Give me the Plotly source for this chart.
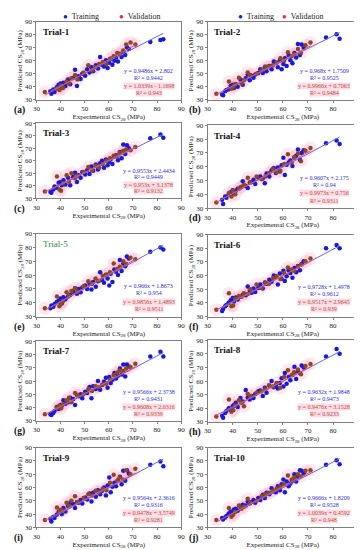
import plotly.graph_objects as go
from plotly.subplots import make_subplots

# ---------------- data ----------------
TRIALS = ["Trial-1", "Trial-2", "Trial-3", "Trial-4", "Trial-5",
          "Trial-6", "Trial-7", "Trial-8", "Trial-9", "Trial-10"]
PANEL_LABELS = ["(a)", "(b)", "(c)", "(d)", "(e)", "(f)", "(g)", "(h)", "(i)", "(j)"]

X_TRAIN = [35.8, 36.2, 37.0, 37.5, 38.4, 39.2, 40.0, 40.5, 41.2, 42.0, 43.1, 44.0, 45.2, 46.0, 46.8,
           47.5, 48.3, 49.0, 50.2, 51.0, 52.0, 52.8, 53.5, 54.6, 55.5, 56.4, 57.2, 58.0, 58.8, 59.5,
           60.2, 60.8, 61.5, 62.3, 63.0, 63.8, 64.6, 65.3, 66.0, 66.8, 67.5, 68.3, 77.2, 81.4, 82.6]
X_VAL = [33.5, 38.5, 39.5, 40.2, 41.0, 42.5, 43.5, 44.5, 46.0, 47.0, 49.5, 51.5, 53.0, 54.5, 56.0,
         57.5, 59.0, 60.5, 62.0, 63.5, 64.5, 66.0, 67.2, 69.0, 71.0]

Y_TRAIN = [
    [36.5, 34.5, 37.8, 36.0, 39.5, 41.5, 42.5, 39.0, 43.0, 40.5, 45.5, 42.0, 47.0, 53.0, 40.5,
     48.0, 46.0, 50.0, 48.5, 53.5, 51.0, 55.0, 52.0, 56.5, 54.0, 63.0, 57.0, 55.5, 60.5, 54.5,
     58.5, 61.5, 57.0, 60.0, 62.5, 59.5, 65.5, 63.0, 67.0, 64.5, 70.5, 69.0, 74.5, 76.0, 76.5],
    [34.0, 33.5, 36.5, 37.5, 38.0, 40.5, 41.5, 39.0, 42.0, 40.0, 45.5, 41.5, 46.5, 49.5, 45.0,
     48.5, 47.0, 49.5, 50.5, 53.5, 50.5, 55.0, 52.0, 56.0, 53.5, 59.5, 58.5, 55.0, 60.5, 53.5,
     57.5, 62.0, 56.0, 64.5, 60.5, 58.0, 66.0, 62.5, 73.0, 64.5, 72.5, 70.0, 78.0, 80.5, 77.0],
    [35.0, 34.5, 37.0, 39.5, 38.5, 42.5, 43.0, 40.5, 44.5, 41.0, 46.5, 40.5, 47.0, 50.5, 43.0,
     48.5, 46.5, 51.0, 49.0, 52.5, 49.5, 55.5, 52.0, 57.0, 53.0, 58.0, 60.0, 54.5, 61.0, 56.5,
     59.0, 61.5, 57.5, 63.5, 64.5, 60.5, 67.0, 62.0, 73.0, 65.5, 72.5, 70.0, 78.0, 81.0, 78.5],
    [36.0, 33.0, 38.5, 37.5, 40.0, 41.5, 43.0, 40.5, 42.5, 44.0, 45.0, 49.5, 46.0, 44.5, 48.5,
     49.0, 50.5, 47.5, 52.0, 53.0, 51.5, 48.0, 55.0, 53.0, 57.5, 59.0, 55.5, 59.5, 56.5, 61.0,
     66.5, 54.0, 61.5, 63.0, 64.5, 60.5, 66.5, 68.0, 72.5, 65.0, 70.0, 72.0, 77.0, 79.0, 76.5],
    [36.0, 38.0, 37.0, 39.0, 40.5, 41.5, 43.0, 39.5, 44.0, 42.5, 44.5, 45.5, 48.0, 50.5, 46.5,
     50.0, 47.5, 51.0, 52.5, 50.0, 53.5, 49.5, 55.0, 51.5, 55.5, 62.0, 56.5, 54.5, 60.0, 57.5,
     52.5, 61.0, 55.0, 64.0, 62.5, 60.0, 71.0, 63.0, 68.5, 66.5, 73.5, 72.0, 77.0, 80.0, 78.5],
    [34.0, 35.5, 37.5, 38.5, 40.0, 42.0, 43.5, 41.0, 44.0, 42.5, 44.5, 46.0, 45.5, 52.0, 49.0,
     47.5, 50.5, 48.0, 51.0, 53.5, 50.5, 55.0, 54.0, 57.0, 55.5, 60.0, 59.0, 53.5, 61.5, 57.5,
     63.5, 56.0, 59.5, 64.0, 62.0, 58.5, 65.5, 62.5, 67.0, 64.0, 68.5, 70.5, 80.0, 82.5, 80.0],
    [35.0, 34.5, 36.0, 37.5, 40.5, 39.0, 42.0, 41.5, 45.5, 43.0, 44.0, 47.5, 46.5, 42.0, 49.5,
     48.5, 50.0, 47.0, 52.0, 51.0, 55.5, 47.0, 56.0, 54.0, 60.0, 53.5, 57.0, 59.5, 62.5, 55.0,
     63.0, 58.5, 61.0, 66.0, 62.0, 64.0, 69.5, 65.0, 72.5, 63.5, 72.5, 71.0, 78.5, 82.0, 78.5],
    [34.5, 33.0, 36.5, 38.0, 40.0, 39.0, 41.5, 42.5, 44.0, 41.0, 47.5, 45.0, 53.5, 48.0, 46.5,
     49.0, 47.5, 50.5, 52.5, 53.0, 49.0, 55.0, 51.5, 56.5, 60.0, 55.5, 57.0, 54.5, 58.5, 62.0,
     56.0, 66.0, 58.0, 63.0, 60.5, 64.5, 70.5, 61.5, 67.0, 66.0, 71.5, 70.0, 78.0, 83.5, 80.0],
    [36.5, 34.5, 38.0, 37.0, 39.5, 41.5, 43.0, 40.0, 44.5, 42.0, 46.0, 48.5, 47.5, 44.5, 49.0,
     48.5, 50.5, 48.0, 52.5, 51.0, 55.5, 49.5, 56.0, 53.0, 58.0, 55.0, 57.5, 60.0, 54.0, 61.5,
     67.5, 56.5, 60.5, 63.5, 61.0, 65.5, 68.0, 62.5, 72.5, 65.0, 73.0, 70.5, 77.0, 79.5, 76.0],
    [37.0, 36.0, 37.5, 38.5, 40.5, 42.0, 41.0, 43.5, 44.0, 42.5, 45.5, 47.0, 46.5, 49.5, 48.0,
     49.0, 50.5, 48.5, 52.0, 50.5, 54.5, 52.0, 56.0, 55.0, 59.5, 57.0, 56.5, 61.0, 58.0, 62.5,
     66.0, 56.5, 64.5, 61.0, 63.0, 65.0, 70.0, 64.5, 68.0, 73.0, 72.5, 70.5, 77.0, 80.5, 77.5],
]

Y_VAL = [
    [36.0, 38.5, 37.5, 41.0, 39.0, 44.0, 42.5, 46.5, 49.0, 45.5, 51.0, 56.5, 52.5, 55.0, 57.5,
     59.0, 57.5, 61.5, 63.5, 66.0, 65.0, 68.0, 72.5, 74.0, 72.5],
    [34.5, 44.0, 38.5, 40.0, 42.0, 47.0, 42.5, 45.0, 51.0, 49.0, 50.0, 52.5, 55.5, 55.5, 56.5,
     58.5, 62.0, 60.0, 66.5, 63.5, 65.0, 69.0, 66.0, 72.0, 74.0],
    [35.5, 47.5, 37.0, 36.0, 42.0, 48.5, 43.5, 50.0, 46.0, 48.0, 51.0, 55.0, 52.5, 56.0, 54.5,
     57.5, 60.0, 62.0, 64.0, 63.5, 66.5, 68.0, 69.0, 68.5, 71.0],
    [34.0, 41.0, 38.5, 42.5, 40.0, 44.0, 45.5, 47.0, 52.0, 48.5, 53.0, 51.0, 53.0, 55.5, 58.5,
     56.0, 57.0, 62.0, 69.0, 63.0, 67.0, 69.5, 64.0, 71.5, 73.5],
    [36.0, 44.5, 37.5, 39.5, 41.0, 47.5, 45.0, 48.5, 50.5, 48.0, 52.0, 55.5, 53.5, 57.5, 56.0,
     59.5, 60.5, 62.0, 68.5, 64.5, 66.0, 70.0, 68.0, 72.5, 71.5],
    [35.0, 47.0, 37.5, 38.0, 43.0, 45.0, 44.5, 47.0, 46.5, 50.0, 53.5, 51.0, 55.0, 54.0, 58.0,
     59.5, 57.5, 62.0, 66.0, 64.5, 63.5, 66.5, 68.0, 70.5, 72.5],
    [35.0, 40.0, 41.5, 39.5, 42.5, 45.5, 47.5, 44.0, 51.0, 49.5, 50.0, 54.0, 52.5, 56.0, 55.5,
     57.5, 58.0, 61.0, 64.5, 66.5, 68.0, 67.5, 69.5, 70.5, 73.0],
    [34.0, 46.5, 37.5, 38.5, 42.0, 46.0, 44.0, 41.5, 50.5, 49.0, 51.5, 52.5, 54.0, 57.0, 56.0,
     58.5, 55.0, 63.0, 68.0, 64.5, 66.5, 68.5, 65.0, 71.0, 72.5],
    [35.5, 45.0, 41.5, 43.0, 42.5, 48.5, 46.0, 50.0, 53.5, 49.0, 52.0, 55.0, 54.0, 57.5, 56.5,
     59.0, 58.0, 63.5, 69.5, 65.0, 67.5, 66.0, 73.0, 70.0, 74.0],
    [35.5, 44.5, 38.0, 39.5, 41.5, 46.5, 44.0, 45.5, 51.5, 48.5, 50.0, 53.5, 55.0, 56.0, 57.5,
     59.0, 60.5, 62.5, 69.0, 66.0, 67.5, 70.0, 68.5, 72.5, 73.0],
]

# fitted lines: slope, intercept, R2  (training / validation)
TRAIN_FIT = [(0.9486, 2.802, "0.9442"), (0.968, 1.7509, "0.9525"), (0.9553, 2.4434, "0.9449"),
             (0.9607, 2.175, "0.94"), (0.966, 1.8673, "0.954"), (0.9728, 1.4978, "0.9612"),
             (0.9566, 2.3738, "0.9431"), (0.9632, 1.9848, "0.9473"), (0.9564, 2.3616, "0.9316"),
             (0.9666, 1.8209, "0.9528")]
VAL_FIT = [(1.0339, -1.1698, "0.943"), (0.9966, 0.7063, "0.9484"), (0.953, 3.1378, "0.9132"),
           (0.9973, 0.756, "0.9311"), (0.9856, 1.4893, "0.9511"), (0.9517, 2.9645, "0.939"),
           (0.9608, 2.6316, "0.9339"), (0.9476, 3.1528, "0.9233"), (0.9478, 3.5749, "0.9281"),
           (1.0039, 0.4592, "0.948")]

AXIS_TICKS = [30, 40, 50, 60, 70, 80, 90]

# ---------------- layout geometry (px) ----------------
W, H = 362, 550
COL_X = [(25, 173), (200, 354)]
BOX_Y = [(10, 89), (10, 89), (113, 189), (115, 199), (225, 309), (226, 309),
         (334, 415), (333, 416), (442, 523), (442, 523)]

SERIF = "Liberation Serif"
BLUE = "#1a1ad6"
BROWN = "#8a4a1e"
BLUE_TXT = "#2b2bd0"
RED_TXT = "#b0503a"

fig = make_subplots(rows=5, cols=2)

def fmt_eq(m, b):
    sign = "+" if b >= 0 else "-"
    return f"y = {m:g}x {sign} {abs(b):g}"

for i in range(10):
    r, c = i // 2 + 1, i % 2 + 1
    xt, yt = X_TRAIN, Y_TRAIN[i]
    xv, yv = X_VAL, Y_VAL[i]
    fig.add_trace(go.Scatter(x=xv, y=yv, mode="markers",
                             marker=dict(size=13, color="rgba(255,120,180,0.18)", line=dict(width=0)),
                             showlegend=False, hoverinfo="skip"), row=r, col=c)
    fig.add_trace(go.Scatter(x=xt, y=yt, mode="markers",
                             marker=dict(size=4.5, color=BLUE, line=dict(width=0)),
                             showlegend=False), row=r, col=c)
    fig.add_trace(go.Scatter(x=xv, y=yv, mode="markers",
                             marker=dict(size=4.5, color=BROWN, line=dict(width=0)),
                             showlegend=False), row=r, col=c)
    m, b, _ = TRAIN_FIT[i]
    x0, x1 = min(xt), max(xt)
    fig.add_trace(go.Scatter(x=[x0, x1], y=[m * x0 + b, m * x1 + b], mode="lines",
                             line=dict(color="#6a6ad8", width=1), showlegend=False), row=r, col=c)
    m2, b2, _ = VAL_FIT[i]
    v0, v1 = min(xv), max(xv)
    fig.add_trace(go.Scatter(x=[v0, v1], y=[m2 * v0 + b2, m2 * v1 + b2], mode="lines",
                             line=dict(color="#e0507a", width=1), showlegend=False), row=r, col=c)

annotations = []
for i in range(10):
    idx = i + 1
    col = i % 2
    xs = "" if idx == 1 else str(idx)
    xl, xr = COL_X[col]
    yt, yb = BOX_Y[i]
    axis_common = dict(range=[30, 90], tickvals=AXIS_TICKS, showgrid=False, zeroline=False,
                       showline=True, mirror=True, linecolor="#7f7f7f", linewidth=1,
                       ticks="outside", ticklen=2, tickcolor="#7f7f7f",
                       tickfont=dict(family=SERIF, size=7, color="#222"))
    fig.layout[f"xaxis{xs}"].update(domain=[xl / W, xr / W],
                                    title=dict(text="Experimental CS<sub>28</sub> (MPa)",
                                               font=dict(family=SERIF, size=7, color="#222"), standoff=1),
                                    **axis_common)
    fig.layout[f"yaxis{xs}"].update(domain=[1 - yb / H, 1 - yt / H],
                                    title=dict(text="Predicted CS<sub>28</sub> (MPa)",
                                               font=dict(family=SERIF, size=7, color="#222"), standoff=1),
                                    **axis_common)
    tcolor = "#2f8a4a" if i == 4 else "#111"
    tweight = "normal" if i == 4 else "bold"
    annotations.append(dict(text=TRIALS[i], xref=f"x{xs} domain", yref=f"y{xs} domain",
                            x=0.03, y=0.96, xanchor="left", yanchor="top", showarrow=False,
                            font=dict(family=SERIF, size=9, color=tcolor, weight=tweight)))
    annotations.append(dict(text=f"<b>{PANEL_LABELS[i]}</b>", xref="paper", yref="paper",
                            x=(1 if col == 0 else 180) / W, y=1 - (yb + 11) / H,
                            xanchor="left", yanchor="middle", showarrow=False, borderpad=0,
                            font=dict(family=SERIF, size=9.5, color="#111")))
    m, b, r2 = TRAIN_FIT[i]
    m2, b2, r22 = VAL_FIT[i]
    xd = f"x{xs}"
    yd = f"y{xs}"
    ex = 76.5
    annotations.append(dict(text=fmt_eq(m, b), xref=xd, yref=yd, x=ex, y=51.8, showarrow=False,
                            borderpad=0, font=dict(family=SERIF, size=6, color=BLUE_TXT)))
    annotations.append(dict(text=f"R² = {r2}", xref=xd, yref=yd, x=ex, y=46.7, showarrow=False,
                            borderpad=0, font=dict(family=SERIF, size=6, color=BLUE_TXT)))
    annotations.append(dict(text=fmt_eq(m2, b2), xref=xd, yref=yd, x=ex, y=40.6, showarrow=False,
                            bgcolor="rgba(255,205,220,0.7)", borderpad=0,
                            font=dict(family=SERIF, size=6, color=RED_TXT)))
    annotations.append(dict(text=f"R² = {r22}", xref=xd, yref=yd, x=ex, y=35.5, showarrow=False,
                            bgcolor="rgba(255,205,220,0.7)", borderpad=0,
                            font=dict(family=SERIF, size=6, color=RED_TXT)))

for lx, vx in [(50, 107), (229, 274)]:
    annotations.append(dict(text=f"<span style='color:{BLUE}'>●</span>  Training", xref="paper", yref="paper",
                            x=lx / W, y=1 - 5 / H, xanchor="left", yanchor="middle", showarrow=False,
                            font=dict(family=SERIF, size=8, color="#222")))
    annotations.append(dict(text=f"<span style='color:#e03050'>●</span>  Validation", xref="paper", yref="paper",
                            x=vx / W, y=1 - 5 / H, xanchor="left", yanchor="middle", showarrow=False,
                            font=dict(family=SERIF, size=8, color="#222")))

fig.update_layout(width=W, height=H, margin=dict(l=0, r=0, t=0, b=0),
                  paper_bgcolor="white", plot_bgcolor="white",
                  annotations=annotations, showlegend=False,
                  font=dict(family=SERIF))

fig.write_html("out.html")
